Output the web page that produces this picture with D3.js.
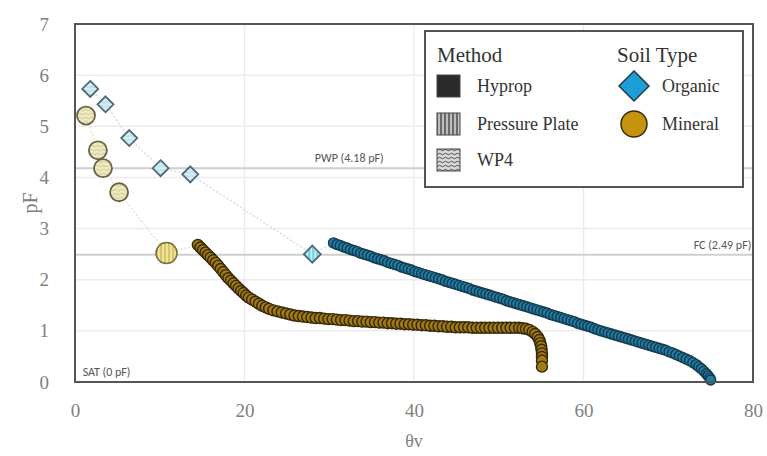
<!DOCTYPE html>
<html>
<head>
<meta charset="utf-8">
<script src="https://cdn.jsdelivr.net/npm/d3@7"></script>
<style>
  body { margin: 0; background: #fff; }
  svg { display: block; }
</style>
</head>
<body>
<script>
/* data: [theta v, pF] */
const organicWP4 = [[1.8, 5.73], [3.6, 5.43], [6.4, 4.77], [10.1, 4.18], [13.6, 4.06]];
const organicPP = [[28.0, 2.50]];
const mineralWP4 = [[1.3, 5.21], [2.7, 4.53], [3.3, 4.18], [5.2, 3.71]];
const mineralPP = [[10.8, 2.52]];

const organicHyprop = [
  [30.5, 2.72], [30.9, 2.69], [31.3, 2.67], [31.7, 2.64], [32.1, 2.62], [32.5, 2.59],
  [32.9, 2.57], [33.3, 2.55], [33.7, 2.52], [34.1, 2.50], [34.5, 2.48], [34.9, 2.46],
  [35.3, 2.43], [35.7, 2.41], [36.1, 2.39], [36.5, 2.37], [36.9, 2.34], [37.3, 2.32],
  [37.7, 2.30], [38.1, 2.28], [38.5, 2.25], [38.9, 2.23], [39.3, 2.21], [39.7, 2.19],
  [40.1, 2.16], [40.5, 2.14], [40.9, 2.12], [41.3, 2.10], [41.7, 2.08], [42.1, 2.06],
  [42.5, 2.04], [42.9, 2.02], [43.3, 2.00], [43.7, 1.97], [44.1, 1.95], [44.5, 1.93],
  [44.9, 1.91], [45.3, 1.89], [45.7, 1.87], [46.1, 1.85], [46.5, 1.83], [46.9, 1.80],
  [47.3, 1.78], [47.7, 1.76], [48.1, 1.74], [48.5, 1.72], [48.9, 1.70], [49.3, 1.68],
  [49.7, 1.66], [50.1, 1.64], [50.5, 1.62], [50.9, 1.59], [51.3, 1.57], [51.7, 1.55],
  [52.1, 1.53], [52.5, 1.51], [52.9, 1.49], [53.3, 1.47], [53.7, 1.45], [54.1, 1.43],
  [54.5, 1.41], [54.9, 1.39], [55.3, 1.37], [55.7, 1.35], [56.1, 1.32], [56.5, 1.30],
  [56.9, 1.28], [57.3, 1.26], [57.7, 1.24], [58.1, 1.22], [58.5, 1.20], [58.9, 1.18],
  [59.3, 1.15], [59.7, 1.13], [60.1, 1.11], [60.5, 1.09], [60.9, 1.07], [61.3, 1.04],
  [61.7, 1.02], [62.1, 1.00], [62.5, 0.98], [62.9, 0.96], [63.3, 0.94], [63.7, 0.92],
  [64.1, 0.90], [64.5, 0.88], [64.9, 0.86], [65.3, 0.84], [65.7, 0.82], [66.1, 0.80],
  [66.5, 0.78], [66.9, 0.76], [67.3, 0.74], [67.7, 0.72], [68.1, 0.70], [68.5, 0.68],
  [68.9, 0.66], [69.3, 0.64], [69.7, 0.62], [70.1, 0.59], [70.5, 0.57], [70.9, 0.54],
  [71.3, 0.51], [71.7, 0.48], [72.1, 0.45], [72.5, 0.42], [72.9, 0.38], [73.3, 0.34],
  [73.6, 0.30], [73.9, 0.26], [74.2, 0.21], [74.5, 0.16], [74.7, 0.12], [74.9, 0.08],
  [75.0, 0.04]
];

const mineralHyprop = [
  [14.5, 2.68], [14.8, 2.63], [15.1, 2.58], [15.4, 2.53], [15.7, 2.48], [16.0, 2.43],
  [16.3, 2.38], [16.6, 2.33], [16.9, 2.27], [17.2, 2.21], [17.5, 2.15], [17.8, 2.09],
  [18.1, 2.03], [18.4, 1.98], [18.7, 1.93], [19.0, 1.88], [19.3, 1.83], [19.6, 1.78],
  [19.9, 1.74], [20.2, 1.69], [20.5, 1.65], [20.9, 1.61], [21.3, 1.57], [21.7, 1.53],
  [22.1, 1.49], [22.5, 1.46], [22.9, 1.43], [23.4, 1.40], [23.9, 1.38], [24.4, 1.36],
  [24.9, 1.34], [25.4, 1.32], [25.9, 1.30], [26.4, 1.29], [26.9, 1.28], [27.4, 1.27],
  [27.9, 1.26], [28.4, 1.25], [28.9, 1.25], [29.4, 1.24], [29.9, 1.23], [30.4, 1.23],
  [30.9, 1.22], [31.4, 1.21], [31.9, 1.21], [32.4, 1.20], [32.9, 1.19], [33.4, 1.19],
  [33.9, 1.18], [34.4, 1.18], [34.9, 1.17], [35.4, 1.17], [35.9, 1.16], [36.4, 1.16],
  [36.9, 1.15], [37.4, 1.15], [37.9, 1.14], [38.4, 1.14], [38.9, 1.13], [39.4, 1.13],
  [39.9, 1.12], [40.4, 1.12], [40.9, 1.11], [41.4, 1.11], [41.9, 1.10], [42.4, 1.10],
  [42.9, 1.09], [43.4, 1.09], [43.9, 1.08], [44.4, 1.08], [44.9, 1.07], [45.4, 1.07],
  [45.9, 1.07], [46.4, 1.07], [46.9, 1.06], [47.4, 1.06], [47.9, 1.06], [48.4, 1.06],
  [48.9, 1.06], [49.4, 1.06], [49.9, 1.06], [50.4, 1.06], [50.9, 1.06], [51.4, 1.06],
  [51.9, 1.06], [52.4, 1.06], [52.8, 1.05], [53.2, 1.04], [53.6, 1.02], [54.0, 0.98],
  [54.3, 0.94], [54.6, 0.88], [54.8, 0.82], [54.9, 0.76], [55.0, 0.70], [55.05, 0.63],
  [55.1, 0.56], [55.1, 0.49], [55.1, 0.42], [55.1, 0.30]
];

const refLines = [
  { value: 4.18, label: 'PWP (4.18 pF)' },
  { value: 2.49, label: 'FC (2.49 pF)' },
  { value: 0, label: 'SAT (0 pF)' }
];

const xTicks = [0, 20, 40, 60, 80];
const yTicks = [0, 1, 2, 3, 4, 5, 6, 7];

const methods = ['Hyprop', 'Pressure Plate', 'WP4'];
const soils = ['Organic', 'Mineral'];

/* layout */
const width = 767, height = 456;
const margin = { top: 24, right: 14, bottom: 74, left: 75 };

const svg = d3.select('body').append('svg')
  .attr('width', width)
  .attr('height', height);

const x = d3.scaleLinear().domain([0, 80]).range([margin.left, width - margin.right]);
const y = d3.scaleLinear().domain([0, 7]).range([height - margin.bottom, margin.top]);

/* patterns */
const defs = svg.append('defs');

const stripes = (id, bg, fg) => {
  const p = defs.append('pattern')
    .attr('id', id)
    .attr('patternUnits', 'userSpaceOnUse')
    .attr('width', 4).attr('height', 4);
  p.append('rect').attr('width', 4).attr('height', 4).attr('fill', bg);
  p.append('line').attr('x1', 1).attr('x2', 1).attr('y1', 0).attr('y2', 4)
    .attr('stroke', fg).attr('stroke-width', 1.2);
};
const waves = (id, bg, fg) => {
  const p = defs.append('pattern')
    .attr('id', id)
    .attr('patternUnits', 'userSpaceOnUse')
    .attr('width', 6).attr('height', 4);
  p.append('rect').attr('width', 6).attr('height', 4).attr('fill', bg);
  p.append('path').attr('d', 'M0,2 Q1.5,0.5 3,2 T6,2')
    .attr('fill', 'none').attr('stroke', fg).attr('stroke-width', 0.9);
};

stripes('ppLegend', '#bdbdbd', '#333');
waves('wpLegend', '#d8d8d8', '#444');
stripes('ppOrganic', '#bff0f8', '#3bb8d0');
stripes('ppMineral', '#efe39a', '#c9b04a');
waves('wpOrganic', '#d6f0f4', '#9fcfd8');
waves('wpMineral', '#eee8c4', '#cfc48a');

/* grid */
const grid = svg.append('g').attr('class', 'grid');

grid.selectAll('line.h')
  .data(yTicks.slice(1, -1))
  .enter().append('line')
  .attr('class', 'h')
  .attr('x1', x(0)).attr('x2', x(80))
  .attr('y1', d => y(d)).attr('y2', d => y(d))
  .attr('stroke', '#ececec')
  .attr('stroke-width', 1.5);

grid.selectAll('line.v')
  .data(xTicks.slice(1, -1))
  .enter().append('line')
  .attr('class', 'v')
  .attr('x1', d => x(d)).attr('x2', d => x(d))
  .attr('y1', y(0)).attr('y2', y(7))
  .attr('stroke', '#ececec')
  .attr('stroke-width', 1.5);

/* reference lines */
svg.selectAll('line.ref')
  .data(refLines.filter(d => d.value > 0))
  .enter().append('line')
  .attr('class', 'ref')
  .attr('x1', x(0)).attr('x2', x(80))
  .attr('y1', d => y(d.value)).attr('y2', d => y(d.value))
  .attr('stroke', '#cfcfcf')
  .attr('stroke-width', 2);

const refText = svg.append('g')
  .attr('font-family', 'Carlito, "Liberation Sans", sans-serif')
  .attr('font-size', 12)
  .attr('fill', '#555');

refText.append('text')
  .attr('x', x(28.3)).attr('y', y(refLines[0].value) - 6)
  .text(refLines[0].label);
refText.append('text')
  .attr('x', x(79.8)).attr('y', y(refLines[1].value) - 6)
  .attr('text-anchor', 'end')
  .text(refLines[1].label);
refText.append('text')
  .attr('x', x(0.9)).attr('y', y(refLines[2].value) - 6)
  .text(refLines[2].label);

/* connector lines */
const line = d3.line().x(d => x(d[0])).y(d => y(d[1]));

svg.append('path')
  .datum(organicWP4.concat(organicPP, [organicHyprop[0]]))
  .attr('d', line)
  .attr('fill', 'none')
  .attr('stroke', '#c9d8e6')
  .attr('stroke-width', 1.2)
  .attr('stroke-dasharray', '2,2');

svg.append('path')
  .datum(mineralWP4.concat(mineralPP, [mineralHyprop[0]]))
  .attr('d', line)
  .attr('fill', 'none')
  .attr('stroke', '#e2dcc4')
  .attr('stroke-width', 1.2)
  .attr('stroke-dasharray', '2,2');

/* hyprop */
svg.append('g')
  .selectAll('circle')
  .data(mineralHyprop)
  .enter().append('circle')
  .attr('cx', d => x(d[0]))
  .attr('cy', d => y(d[1]))
  .attr('r', 5.5)
  .attr('fill', '#a07a12')
  .attr('stroke', '#35270b')
  .attr('stroke-width', 1.4);

svg.append('g')
  .selectAll('circle')
  .data(organicHyprop)
  .enter().append('circle')
  .attr('cx', d => x(d[0]))
  .attr('cy', d => y(d[1]))
  .attr('r', 5)
  .attr('fill', '#1f7ea6')
  .attr('stroke', '#16394c')
  .attr('stroke-width', 1.4);

/* WP4 and pressure plate */
const diamond = s => `M0,${-s}L${s},0L0,${s}L${-s},0Z`;

svg.append('g')
  .selectAll('path')
  .data(organicWP4)
  .enter().append('path')
  .attr('transform', d => `translate(${x(d[0])},${y(d[1])})`)
  .attr('d', diamond(8))
  .attr('fill', 'url(#wpOrganic)')
  .attr('stroke', '#4d6a78')
  .attr('stroke-width', 1.8);

svg.append('g')
  .selectAll('path')
  .data(organicPP)
  .enter().append('path')
  .attr('transform', d => `translate(${x(d[0])},${y(d[1])})`)
  .attr('d', diamond(8.5))
  .attr('fill', 'url(#ppOrganic)')
  .attr('stroke', '#4d6a78')
  .attr('stroke-width', 1.8);

svg.append('g')
  .selectAll('circle')
  .data(mineralWP4)
  .enter().append('circle')
  .attr('cx', d => x(d[0]))
  .attr('cy', d => y(d[1]))
  .attr('r', 9)
  .attr('fill', 'url(#wpMineral)')
  .attr('stroke', '#6b6244')
  .attr('stroke-width', 1.8);

svg.append('g')
  .selectAll('circle')
  .data(mineralPP)
  .enter().append('circle')
  .attr('cx', d => x(d[0]))
  .attr('cy', d => y(d[1]))
  .attr('r', 10.5)
  .attr('fill', 'url(#ppMineral)')
  .attr('stroke', '#7a6a3a')
  .attr('stroke-width', 1.5);

/* frame */
svg.append('rect')
  .attr('x', x(0)).attr('y', y(7))
  .attr('width', x(80) - x(0))
  .attr('height', y(0) - y(7))
  .attr('fill', 'none')
  .attr('stroke', '#555')
  .attr('stroke-width', 2);

/* axes */
const xAxis = svg.append('g')
  .attr('transform', `translate(0,${y(0)})`)
  .call(d3.axisBottom(x).tickValues(xTicks).tickFormat(d3.format('d')).tickSize(0).tickPadding(22));
const yAxis = svg.append('g')
  .attr('transform', `translate(${x(0)},0)`)
  .call(d3.axisLeft(y).tickValues(yTicks).tickFormat(d3.format('d')).tickSize(0).tickPadding(26));

[xAxis, yAxis].forEach(a => {
  a.select('.domain').remove();
  a.selectAll('text')
    .attr('font-family', '"Liberation Serif", "DejaVu Serif", serif')
    .attr('font-size', 19)
    .attr('fill', '#808080');
});

svg.append('text')
  .attr('x', x(40)).attr('y', 447)
  .attr('text-anchor', 'middle')
  .attr('font-family', '"Liberation Serif", serif')
  .attr('font-size', 18)
  .attr('fill', '#808080')
  .text('θv');

svg.append('text')
  .attr('transform', `translate(37,${y(3.5)}) rotate(-90)`)
  .attr('text-anchor', 'middle')
  .attr('font-family', '"Liberation Serif", serif')
  .attr('font-size', 20)
  .attr('fill', '#808080')
  .text('pF');

/* legend */
const legend = svg.append('g')
  .attr('font-family', '"Liberation Serif", "DejaVu Serif", serif')
  .attr('fill', '#333');

legend.append('rect')
  .attr('x', 425).attr('y', 31)
  .attr('width', 318).attr('height', 156)
  .attr('fill', '#fff')
  .attr('stroke', '#555')
  .attr('stroke-width', 2);

legend.append('text').attr('x', 437).attr('y', 62).attr('font-size', 21).text('Method');
legend.append('text').attr('x', 617).attr('y', 62).attr('font-size', 21).text('Soil Type');

const methodFills = ['#2b2b2b', 'url(#ppLegend)', 'url(#wpLegend)'];
const rowY = [86, 124, 160];

legend.selectAll('rect.m')
  .data(methods)
  .enter().append('rect')
  .attr('class', 'm')
  .attr('x', 437)
  .attr('y', (d, i) => rowY[i] - 11)
  .attr('width', 23).attr('height', 22)
  .attr('fill', (d, i) => methodFills[i])
  .attr('stroke', '#444')
  .attr('stroke-width', 1);

legend.selectAll('text.m')
  .data(methods)
  .enter().append('text')
  .attr('class', 'm')
  .attr('x', 477)
  .attr('y', (d, i) => rowY[i] + 6)
  .attr('font-size', 18)
  .text(d => d);

legend.append('path')
  .attr('transform', `translate(634,${rowY[0]})`)
  .attr('d', diamond(15))
  .attr('fill', '#1e9ed8')
  .attr('stroke', '#26394a')
  .attr('stroke-width', 1.5);

legend.append('circle')
  .attr('cx', 634).attr('cy', rowY[1])
  .attr('r', 13)
  .attr('fill', '#c4940e')
  .attr('stroke', '#3a2c10')
  .attr('stroke-width', 1.5);

legend.selectAll('text.s')
  .data(soils)
  .enter().append('text')
  .attr('class', 's')
  .attr('x', 662)
  .attr('y', (d, i) => rowY[i] + 6)
  .attr('font-size', 18)
  .text(d => d);
</script>
</body>
</html>
